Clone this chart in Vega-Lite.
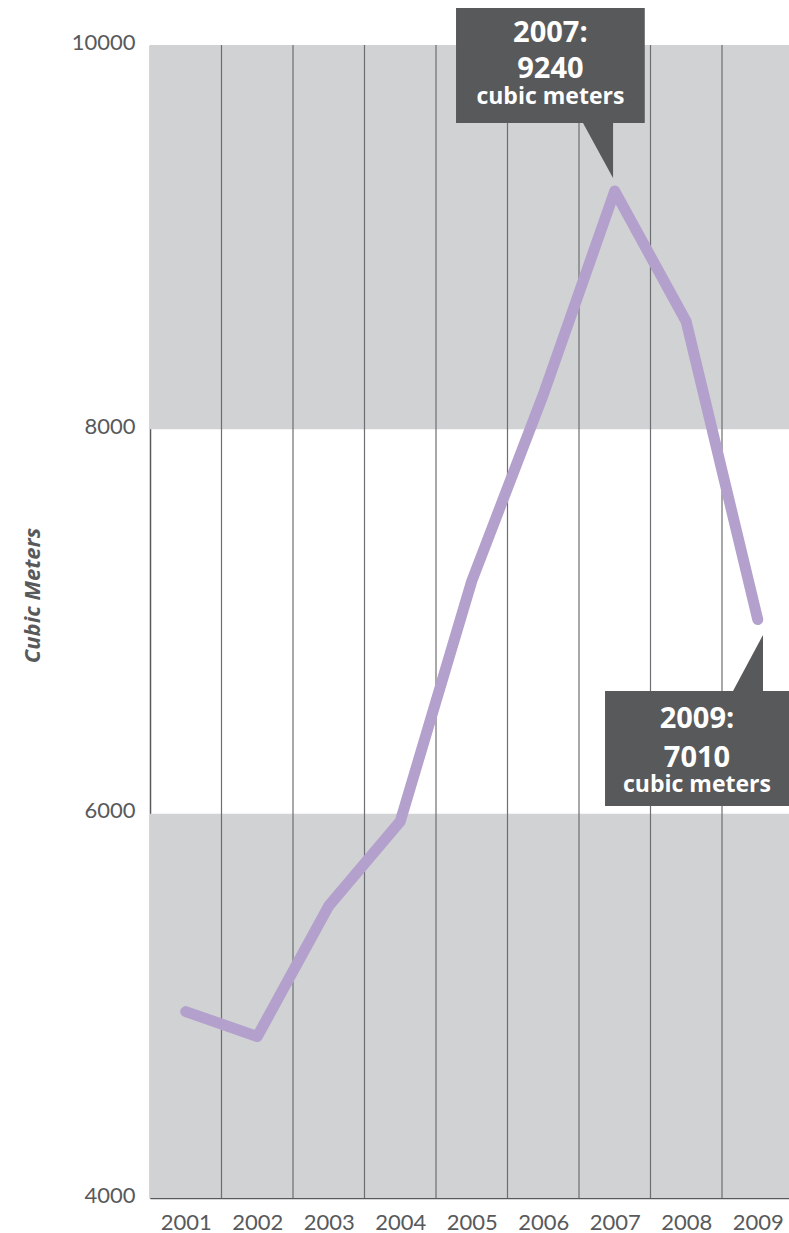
{
  "$schema": "https://vega.github.io/schema/vega-lite/v6.json",
  "autosize": {"type": "none"},
  "padding": {"left": 150, "top": 45, "right": 0, "bottom": 35},
  "width": 643.5,
  "height": 1153,
  "background": "white",
  "config": {
    "view": {"stroke": null},
    "font": "Lato",
    "axisX": {
      "grid": false, "ticks": false, "domain": true, "domainColor": "#58595b", "domainWidth": 1.5,
      "labelFontSize": 22, "labelColor": "#58595b", "labelPadding": 14, "labelFont": "Lato"
    },
    "axisY": {
      "grid": false, "ticks": false, "domain": true, "domainColor": "#58595b", "domainWidth": 1.5,
      "labelFontSize": 22, "labelColor": "#58595b", "labelPadding": 15, "labelFont": "Lato", "labelOffset": -3,
      "titleFont": "Open Sans", "titleFontSize": 22, "titleFontStyle": "italic", "titleFontWeight": "bold",
      "titleColor": "#58595b", "titleX": -118, "titleY": 550, "titleBaseline": "middle", "titleAlign": "center", "titleAngle": -90
    }
  },
  "datasets": {
    "series": [
      {"year": 2001, "value": 4970},
      {"year": 2002, "value": 4840},
      {"year": 2003, "value": 5520},
      {"year": 2004, "value": 5960},
      {"year": 2005, "value": 7210},
      {"year": 2006, "value": 8180},
      {"year": 2007, "value": 9240},
      {"year": 2008, "value": 8560},
      {"year": 2009, "value": 7010}
    ],
    "bands": [
      {"low": 8000, "high": 10000},
      {"low": 4000, "high": 6000}
    ],
    "grid": [
      {"edge": 2001.5}, {"edge": 2002.5}, {"edge": 2003.5}, {"edge": 2004.5},
      {"edge": 2005.5}, {"edge": 2006.5}, {"edge": 2007.5}, {"edge": 2008.5}
    ],
    "boxes": [
      {"callout": "2007", "x1": 2004.78, "x2": 2007.42, "y1": 9594, "y2": 10192},
      {"callout": "2009", "x1": 2006.864, "x2": 2009.6, "y1": 6040, "y2": 6638}
    ],
    "pointers": [
      {"callout": "2007", "px": 2006.556, "py1": 9594, "py2": 9594},
      {"callout": "2007", "px": 2006.976, "py1": 9594, "py2": 9308},
      {"callout": "2009", "px": 2008.654, "py1": 6638, "py2": 6638},
      {"callout": "2009", "px": 2009.073, "py1": 6638, "py2": 6930}
    ],
    "labels": [
      {"part": "value", "text": "2007:", "tx": 2006.1, "ty": 10016},
      {"part": "value", "text": "9240", "tx": 2006.1, "ty": 9830},
      {"part": "unit", "text": "cubic meters", "tx": 2006.1, "ty": 9693},
      {"part": "value", "text": "2009:", "tx": 2008.15, "ty": 6446},
      {"part": "value", "text": "7010", "tx": 2008.15, "ty": 6245},
      {"part": "unit", "text": "cubic meters", "tx": 2008.15, "ty": 6113}
    ]
  },
  "layer": [
    {
      "data": {"name": "bands"},
      "mark": {"type": "rect", "color": "#d1d2d4"},
      "encoding": {
        "x": {"datum": 2000.5, "type": "quantitative", "scale": {"domain": [2000.5, 2009.5], "nice": false, "zero": false},
              "axis": {"values": [2001, 2002, 2003, 2004, 2005, 2006, 2007, 2008, 2009], "format": "d", "title": null}},
        "x2": {"datum": 2009.5},
        "y": {"field": "low", "type": "quantitative", "scale": {"domain": [4000, 10000], "nice": false, "zero": false},
              "axis": {"values": [4000, 6000, 8000, 10000], "format": "d", "title": "Cubic Meters"}},
        "y2": {"field": "high"}
      }
    },
    {
      "data": {"name": "grid"},
      "mark": {"type": "rule", "color": "#6d6e71", "strokeWidth": 1.2},
      "encoding": {
        "x": {"field": "edge", "type": "quantitative", "axis": {"title": null}},
        "y": {"datum": 4000, "type": "quantitative", "axis": {"title": "Cubic Meters"}},
        "y2": {"datum": 10000}
      }
    },
    {
      "data": {"name": "series"},
      "mark": {"type": "line", "color": "#b3a0cc", "strokeWidth": 11, "strokeCap": "round", "strokeJoin": "round"},
      "encoding": {
        "x": {"field": "year", "type": "quantitative", "axis": {"title": null}},
        "y": {"field": "value", "type": "quantitative", "axis": {"title": "Cubic Meters"}}
      }
    },
    {
      "data": {"name": "boxes"},
      "mark": {"type": "rect", "color": "#58595b"},
      "encoding": {
        "x": {"field": "x1", "type": "quantitative", "axis": {"title": null}},
        "x2": {"field": "x2"},
        "y": {"field": "y1", "type": "quantitative", "axis": {"title": "Cubic Meters"}},
        "y2": {"field": "y2"}
      }
    },
    {
      "data": {"name": "pointers"},
      "mark": {"type": "area", "color": "#58595b", "opacity": 1},
      "encoding": {
        "x": {"field": "px", "type": "quantitative", "axis": {"title": null}},
        "y": {"field": "py1", "type": "quantitative", "axis": {"title": "Cubic Meters"}},
        "y2": {"field": "py2"},
        "detail": {"field": "callout"}
      }
    },
    {
      "data": {"name": "labels"},
      "transform": [{"filter": "datum.part == 'value'"}],
      "mark": {"type": "text", "color": "white", "font": "Open Sans", "fontWeight": "bold", "fontSize": 29, "align": "center", "baseline": "alphabetic"},
      "encoding": {
        "x": {"field": "tx", "type": "quantitative", "axis": {"title": null}},
        "y": {"field": "ty", "type": "quantitative", "axis": {"title": "Cubic Meters"}},
        "text": {"field": "text"}
      }
    },
    {
      "data": {"name": "labels"},
      "transform": [{"filter": "datum.part == 'unit'"}],
      "mark": {"type": "text", "color": "white", "font": "Open Sans", "fontWeight": "bold", "fontSize": 23, "align": "center", "baseline": "alphabetic"},
      "encoding": {
        "x": {"field": "tx", "type": "quantitative", "axis": {"title": null}},
        "y": {"field": "ty", "type": "quantitative", "axis": {"title": "Cubic Meters"}},
        "text": {"field": "text"}
      }
    }
  ]
}
